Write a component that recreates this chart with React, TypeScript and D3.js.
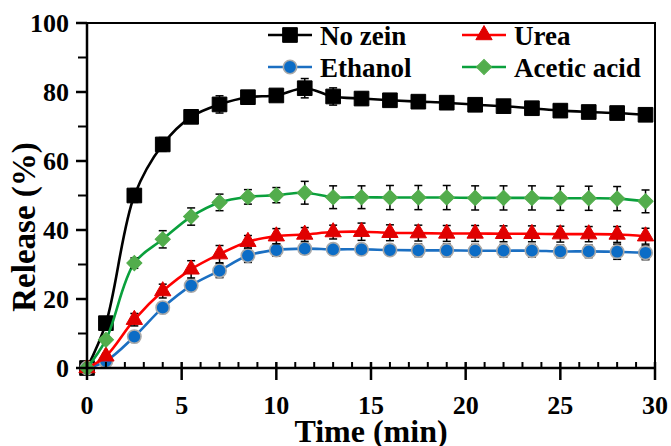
import * as d3 from 'd3'

const times = [0, 1, 2.5, 4, 5.5, 7, 8.5, 10, 11.5, 13, 14.5, 16, 17.5, 19, 20.5, 22, 23.5, 25, 26.5, 28, 29.5]

const noZein = [0, 13, 50, 64.8, 72.8, 76.4, 78.5, 79, 81.1, 78.7, 78.1, 77.6, 77.2, 76.9, 76.3, 75.9, 75.3, 74.6, 74.2, 73.9, 73.4]
const noZeinErr = [0, 1.2, 2, 2, 1, 2.5, 1.5, 1.5, 2.8, 2.5, 1.8, 1.5, 1.5, 1.5, 1.5, 1.5, 1.8, 1.8, 1.8, 1.8, 1.8]
const urea = [0, 3.4, 14, 22.3, 28.6, 33, 36.6, 38.2, 38.7, 39.4, 39.5, 39.2, 39.1, 39, 39, 38.9, 38.9, 38.8, 38.8, 38.7, 38.2]
const ureaErr = [0, 0.8, 1.8, 2, 2.5, 2.5, 1.8, 2.2, 2, 2, 2.5, 2.3, 2.3, 2.3, 2.3, 2.3, 2.3, 2.3, 2.2, 2.3, 2.3]
const ethanol = [0, 2, 9.1, 17.5, 23.9, 28.2, 32.6, 34.2, 34.6, 34.4, 34.4, 34.2, 34.1, 34.1, 34, 34, 34, 33.8, 33.8, 33.7, 33.4]
const ethanolErr = [0, 0.5, 1, 1.2, 1.5, 2, 2, 1.8, 1.5, 1.5, 1.5, 1.5, 1.8, 1.8, 1.8, 1.8, 1.8, 1.8, 1.8, 2.2, 2]
const acetic = [0, 8.2, 30.4, 37.3, 43.9, 48, 49.6, 50.1, 50.8, 49.5, 49.5, 49.4, 49.4, 49.4, 49.3, 49.3, 49.3, 49.2, 49.2, 49.1, 48.3]
const aceticErr = [0, 1, 1.5, 2.5, 2.5, 2.4, 2.1, 2.2, 3.3, 3.3, 3.3, 3.5, 3.5, 3.5, 3.5, 3.5, 3.5, 3.5, 3.5, 3.5, 3.3]

const xTicks = [0, 5, 10, 15, 20, 25, 30]
const yTicks = [0, 20, 40, 60, 80, 100]

const W = 671
const H = 446
const FONT = 'Liberation Serif, Times New Roman, serif'

type Series = {
  name: string
  values: number[]
  errs: number[]
  line: string
  fill: string
  stroke: string
  marker: 'square' | 'circle' | 'triangle' | 'diamond'
}

// draw order: black, blue, red, green (green ends up on top)
const series: Series[] = [
  { name: 'No zein', values: noZein, errs: noZeinErr, line: '#000000', fill: '#000000', stroke: '#000000', marker: 'square' },
  { name: 'Ethanol', values: ethanol, errs: ethanolErr, line: '#1b6fc2', fill: '#0b6cc6', stroke: '#a9a9a9', marker: 'circle' },
  { name: 'Urea', values: urea, errs: ureaErr, line: '#ff0000', fill: '#e00000', stroke: '#e00000', marker: 'triangle' },
  { name: 'Acetic acid', values: acetic, errs: aceticErr, line: '#0aa03c', fill: '#52ad4c', stroke: '#52ad4c', marker: 'diamond' },
]

function markerPath(kind: Series['marker']) {
  if (kind === 'square') return d3.symbol(d3.symbolSquare, 215)() as string
  if (kind === 'circle') return d3.symbol(d3.symbolCircle, 140)() as string
  if (kind === 'triangle') return d3.symbol(d3.symbolTriangle, 115)() as string
  return d3.symbol(d3.symbolSquare, 115)() as string
}

function Marker({ s, x, y }: { s: Series; x: number; y: number }) {
  const rot = s.marker === 'diamond' ? ' rotate(45)' : ''
  return (
    <path
      d={markerPath(s.marker)}
      transform={`translate(${x},${y})${rot}`}
      fill={s.fill}
      stroke={s.stroke}
      strokeWidth={s.marker === 'circle' ? 1.6 : 1}
    />
  )
}

export default function App() {
  const x = d3.scaleLinear().domain([0, 30]).range([87, 655])
  const y = d3.scaleLinear().domain([0, 100]).range([368, 23])

  const line = d3
    .line<number>()
    .x((_, i) => x(times[i]))
    .y((v) => y(v))
    .curve(d3.curveCatmullRom.alpha(0.5))

  const minorX = d3.range(0, 31, 1).filter((v) => v % 5 !== 0)
  const minorY = d3.range(10, 100, 20)

  const legend = [
    { s: series[0], lx: 268, ly: 38 },
    { s: series[2], lx: 462, ly: 38 },
    { s: series[1], lx: 268, ly: 70 },
    { s: series[3], lx: 462, ly: 70 },
  ]

  return (
    <div style={{ position: 'fixed', left: 0, top: 0 }}>
      <svg width={W} height={H} style={{ display: 'block', background: '#fff' }}>
        {/* frame top/right */}
        <path d={`M${x(0)},${y(100)}H${x(30)}V${y(0)}`} fill="none" stroke="#000" strokeWidth={2} />

        {/* series */}
        {series.map((s) => (
          <g key={s.name}>
            <path d={line(s.values) as string} fill="none" stroke={s.line} strokeWidth={2.6} />
            {s.values.map((v, i) =>
              s.errs[i] > 0 ? (
                <g key={i} stroke="#000" strokeWidth={1.5}>
                  <line x1={x(times[i])} x2={x(times[i])} y1={y(v - s.errs[i])} y2={y(v + s.errs[i])} />
                  <line x1={x(times[i]) - 4} x2={x(times[i]) + 4} y1={y(v + s.errs[i])} y2={y(v + s.errs[i])} />
                  <line x1={x(times[i]) - 4} x2={x(times[i]) + 4} y1={y(v - s.errs[i])} y2={y(v - s.errs[i])} />
                </g>
              ) : null
            )}
            {s.values.map((v, i) => (
              <Marker key={i} s={s} x={x(times[i])} y={y(v)} />
            ))}
          </g>
        ))}

        {/* axes */}
        <g stroke="#000" strokeWidth={2.5}>
          <line x1={x(0)} x2={x(30)} y1={y(0)} y2={y(0)} />
          <line x1={x(0)} x2={x(0)} y1={y(0)} y2={y(100)} />
          {xTicks.map((t) => (
            <line key={'xt' + t} x1={x(t)} x2={x(t)} y1={y(0) - 6} y2={y(0) + 12} />
          ))}
          {minorX.map((t) => (
            <line key={'xm' + t} x1={x(t)} x2={x(t)} y1={y(0) - 6} y2={y(0)} strokeWidth={2} />
          ))}
          {yTicks.map((t) => (
            <line key={'yt' + t} x1={x(0) - 11} x2={x(0)} y1={y(t)} y2={y(t)} />
          ))}
          {minorY.map((t) => (
            <line key={'ym' + t} x1={x(0) - 9} x2={x(0)} y1={y(t)} y2={y(t)} strokeWidth={2} />
          ))}
        </g>

        <g fontFamily={FONT} fontWeight="bold" fontSize={26} fill="#000">
          {xTicks.map((t) => (
            <text key={'xl' + t} x={x(t)} y={414} textAnchor="middle">
              {t}
            </text>
          ))}
          {yTicks.map((t) => (
            <text key={'yl' + t} x={69} y={y(t) + 9} textAnchor="end">
              {t}
            </text>
          ))}
        </g>

        <text x={371} y={442} textAnchor="middle" fontFamily={FONT} fontWeight="bold" fontSize={32}>
          Time (min)
        </text>
        <text
          transform="translate(35,227) rotate(-90)"
          textAnchor="middle"
          fontFamily={FONT}
          fontWeight="bold"
          fontSize={33}
        >
          Release (%)
        </text>

        {/* legend */}
        {legend.map(({ s, lx, ly }) => (
          <g key={'lg' + s.name}>
            <line x1={lx} x2={lx + 44} y1={ly - 3} y2={ly - 3} stroke={s.line} strokeWidth={2.6} />
            <Marker s={s} x={lx + 22} y={ly - 3} />
            <text x={lx + 52} y={ly + 7} fontFamily={FONT} fontWeight="bold" fontSize={27}>
              {s.name}
            </text>
          </g>
        ))}
      </svg>
    </div>
  )
}
